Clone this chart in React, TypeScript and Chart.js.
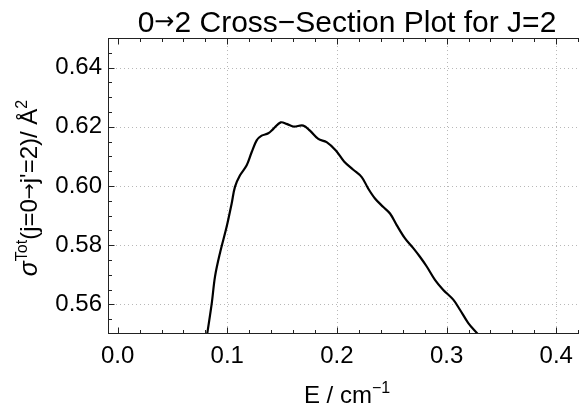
import React, { useEffect, useRef } from "react";
import { Chart, registerables } from "chart.js";

Chart.register(...registerables);

// ---- data ----
const energies = [
  0.08, 0.0857, 0.0888, 0.0933, 0.0994, 0.104, 0.107, 0.1116, 0.1177, 0.1222,
  0.1268, 0.1313, 0.1374, 0.142, 0.1487, 0.1541, 0.1602, 0.1693, 0.1754, 0.183,
  0.1906, 0.199, 0.2065, 0.2149, 0.2226, 0.2286, 0.2347, 0.2423, 0.2484, 0.2545,
  0.2621, 0.2696, 0.2757, 0.2819, 0.2894, 0.297, 0.3061, 0.3122, 0.3198, 0.3284,
  0.331,
];
const crossSections = [
  0.546, 0.56, 0.5694, 0.5773, 0.5862, 0.5941, 0.5997, 0.6036, 0.607, 0.6114,
  0.6154, 0.617, 0.6178, 0.6193, 0.6215, 0.621, 0.6201, 0.6204, 0.6187, 0.6159,
  0.6148, 0.612, 0.6083, 0.6055, 0.603, 0.5991, 0.5958, 0.5929, 0.5907, 0.5868,
  0.5823, 0.579, 0.5761, 0.5728, 0.5683, 0.5649, 0.5616, 0.5582, 0.5537, 0.55,
  0.5488,
];

const xTickValues = [0.0, 0.1, 0.2, 0.3, 0.4];
const yTickValues = [0.56, 0.58, 0.6, 0.62, 0.64];
const xGridValues = [0.1, 0.2, 0.3, 0.4];
const yGridValues = [0.56, 0.58, 0.6, 0.62, 0.64];
const xMinorTicks = [
  0.02, 0.04, 0.06, 0.08, 0.12, 0.14, 0.16, 0.18, 0.22, 0.24, 0.26, 0.28, 0.32,
  0.34, 0.36, 0.38, 0.42,
];
const yMinorTicks = [
  0.555, 0.565, 0.57, 0.575, 0.585, 0.59, 0.595, 0.605, 0.61, 0.615, 0.625,
  0.63, 0.635, 0.645,
];

const X_MIN = -0.0088;
const X_MAX = 0.4299;
const Y_MIN = 0.55;
const Y_MAX = 0.65;

const FONT = "'Liberation Sans', Arial, sans-serif";
const ARROW_FONT = "'DejaVu Sans', sans-serif";

type Seg = { t: string; size: number; rise: number; italic?: boolean; family?: string };

const titleSegs: Seg[] = [
  { t: "0", size: 30, rise: 0 },
  { t: "\u2192", size: 24, rise: 3, family: ARROW_FONT },
  { t: "2 Cross\u2212Section Plot for J=2", size: 30, rise: 0 },
];
const xTitleSegs: Seg[] = [
  { t: "E / cm", size: 24, rise: 0 },
  { t: "\u22121", size: 16, rise: 10 },
];
const yTitleSegs: Seg[] = [
  { t: "\u03C3", size: 25, rise: 0, italic: true },
  { t: "Tot", size: 16, rise: 10 },
  { t: "(j=0", size: 24, rise: 0 },
  { t: "\u2192", size: 19, rise: 2.5, family: ARROW_FONT },
  { t: "j'=2)/ \u00C5", size: 24, rise: 0 },
  { t: "2", size: 16, rise: 10 },
];

function segFont(s: Seg) {
  return `${s.italic ? "italic " : ""}${s.size}px ${s.family || FONT}`;
}

function drawSegs(ctx: CanvasRenderingContext2D, segs: Seg[]) {
  let total = 0;
  const widths = segs.map((s) => {
    ctx.font = segFont(s);
    const w = ctx.measureText(s.t).width;
    total += w;
    return w;
  });
  let x = -total / 2;
  segs.forEach((s, i) => {
    ctx.font = segFont(s);
    ctx.fillText(s.t, x, -s.rise);
    x += widths[i];
  });
}

const framePlugin = {
  id: "mmaFrame",
  beforeDatasetsDraw(chart: any) {
    const { ctx, chartArea, scales } = chart;
    const { left, right, top, bottom } = chartArea;
    ctx.save();
    ctx.strokeStyle = "#b8b8b8";
    ctx.lineWidth = 1;
    ctx.setLineDash([1, 3]);
    for (const v of xGridValues) {
      const px = Math.round(scales.x.getPixelForValue(v)) + 0.5;
      ctx.beginPath();
      ctx.moveTo(px, top);
      ctx.lineTo(px, bottom);
      ctx.stroke();
    }
    for (const v of yGridValues) {
      const py = Math.round(scales.y.getPixelForValue(v)) + 0.5;
      ctx.beginPath();
      ctx.moveTo(left, py);
      ctx.lineTo(right, py);
      ctx.stroke();
    }
    ctx.restore();
  },
  afterDatasetsDraw(chart: any) {
    const { ctx, chartArea, scales } = chart;
    const { left, right, top, bottom } = chartArea;
    ctx.save();
    ctx.strokeStyle = "#222";
    ctx.lineWidth = 1;
    ctx.setLineDash([]);
    const L = Math.round(left) + 0.5;
    const R = Math.round(right) - 0.5;
    const T = Math.round(top) + 0.5;
    const B = Math.round(bottom) - 0.5;
    ctx.strokeRect(L, T, R - L, B - T);
    const major = 6;
    const minor = 3.5;
    const xt = (v: number, len: number) => {
      const px = Math.round(scales.x.getPixelForValue(v)) + 0.5;
      ctx.beginPath();
      ctx.moveTo(px, B);
      ctx.lineTo(px, B - len);
      ctx.moveTo(px, T);
      ctx.lineTo(px, T + len);
      ctx.stroke();
    };
    const yt = (v: number, len: number) => {
      const py = Math.round(scales.y.getPixelForValue(v)) + 0.5;
      ctx.beginPath();
      ctx.moveTo(L, py);
      ctx.lineTo(L + len, py);
      ctx.moveTo(R, py);
      ctx.lineTo(R - len, py);
      ctx.stroke();
    };
    xTickValues.forEach((v) => xt(v, major));
    xMinorTicks.forEach((v) => xt(v, minor));
    yTickValues.forEach((v) => yt(v, major));
    yMinorTicks.forEach((v) => yt(v, minor));
    ctx.restore();
  },
  afterDraw(chart: any) {
    const { ctx, chartArea } = chart;
    const { top, bottom } = chartArea;
    ctx.save();
    ctx.fillStyle = "#000";
    ctx.textBaseline = "alphabetic";
    ctx.textAlign = "left";
    // plot title
    ctx.save();
    ctx.translate(347, 32);
    drawSegs(ctx, titleSegs);
    ctx.restore();
    // x axis title
    ctx.save();
    ctx.translate(347, 403);
    drawSegs(ctx, xTitleSegs);
    ctx.restore();
    // y axis title
    ctx.save();
    ctx.translate(37, (top + bottom) / 2 + 2);
    ctx.rotate(-Math.PI / 2);
    drawSegs(ctx, yTitleSegs);
    ctx.restore();
    ctx.restore();
  },
};

export default function App() {
  const ref = useRef<HTMLCanvasElement | null>(null);
  useEffect(() => {
    if (!ref.current) return;
    const chart = new Chart(ref.current, {
      type: "line",
      data: {
        datasets: [
          {
            data: energies.map((e, i) => ({ x: e, y: crossSections[i] })),
            borderColor: "#000",
            borderWidth: 2.2,
            pointRadius: 0,
            tension: 0.35,
            fill: false,
            clip: 0,
          },
        ],
      },
      options: {
        animation: false,
        responsive: false,
        devicePixelRatio: 1,
        layout: { padding: { left: 0, right: 1, top: 38, bottom: 0 } },
        plugins: {
          legend: { display: false },
          tooltip: { enabled: false },
          title: { display: false },
        },
        scales: {
          x: {
            type: "linear",
            min: X_MIN,
            max: X_MAX,
            grid: { display: false, drawTicks: false },
            border: { display: false },
            afterBuildTicks: (scale: any) => {
              scale.ticks = xTickValues.map((value) => ({ value }));
            },
            afterFit: (scale: any) => {
              scale.height = 75;
            },
            ticks: {
              color: "#000",
              padding: 8,
              maxRotation: 0,
              autoSkip: false,
              font: { family: FONT, size: 24 },
              callback: (v: any) => Number(v).toFixed(1),
            },
          },
          y: {
            type: "linear",
            min: Y_MIN,
            max: Y_MAX,
            grid: { display: false, drawTicks: false },
            border: { display: false },
            afterBuildTicks: (scale: any) => {
              scale.ticks = yTickValues.map((value) => ({ value }));
            },
            afterFit: (scale: any) => {
              scale.width = 108;
            },
            ticks: {
              color: "#000",
              padding: 6,
              autoSkip: false,
              font: { family: FONT, size: 24 },
              callback: (v: any) => Number(v).toFixed(2),
            },
          },
        },
      },
      plugins: [framePlugin],
    });
    return () => chart.destroy();
  }, []);
  return (
    <div
      style={{
        position: "absolute",
        left: 0,
        top: 0,
        width: 579,
        height: 409,
        overflow: "hidden",
        background: "#fff",
      }}
    >
      <canvas ref={ref} width={590} height={409} style={{ display: "block" }} />
    </div>
  );
}
